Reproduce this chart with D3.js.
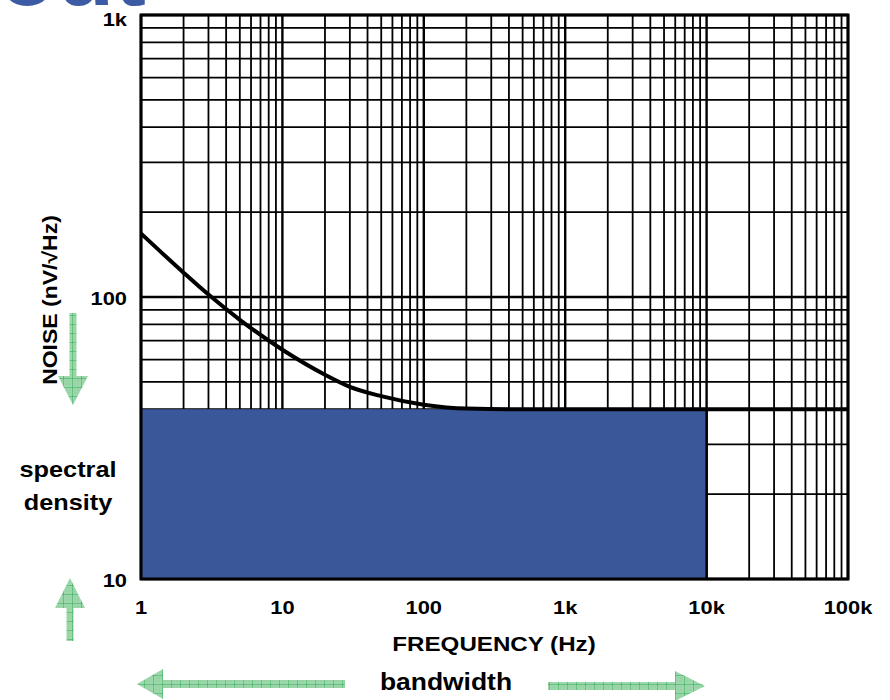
<!DOCTYPE html>
<html>
<head>
<meta charset="utf-8">
<script src="https://cdn.jsdelivr.net/npm/d3@7"></script>
<style>
  body{margin:0;background:#fff;}
  svg{display:block;font-family:"Liberation Sans",Arial,sans-serif;}
  .lbl{font-weight:bold;fill:#000;}
</style>
</head>
<body>
<div id="chart"></div>
<script>
// noise spectral density
var freqs=[1,2,3,5,10,20,30,50,100,200,500,1000,10000,100000];
var noise=[168,122,102,83,65,53,48,44.5,41.5,40.2,40,40,40,40];
// flat band used for the shaded block
var bandFreq=[1,10000];
var bandNoise=40;
var xTicks=[1,10,100,1000,10000,100000];
var xTickLabels=["1","10","100","1k","10k","100k"];
var yTicks=[10,100,1000];
var yTickLabels=["10","100","1k"];

var W=890,H=700;
var plot={left:141,right:848,top:15,bottom:579};

var svg=d3.select("#chart").append("svg").attr("width",W).attr("height",H);

var x=d3.scaleLog().domain([1,100000]).range([plot.left,plot.right]);
var y=d3.scaleLog().domain([10,1000]).range([plot.bottom,plot.top]);

// bold text, slightly stretched sideways like the original slide font
function label(px,py,str,size,anchor,rot){
	var t="translate("+px+","+py+")"+(rot?" rotate("+rot+")":"")+" scale(1.15,1)";
	return svg.append("text").attr("class","lbl").attr("transform",t)
		.attr("text-anchor",anchor||"middle").attr("font-size",size).text(str);
}

// hatched green fill for the arrows
var defs=svg.append("defs");
var pat=defs.append("pattern").attr("id","hatch").attr("patternUnits","userSpaceOnUse")
	.attr("width",9).attr("height",9);
pat.append("rect").attr("width",9).attr("height",9).attr("fill","#9fd9ae");
pat.append("path").attr("d","M0,0.5H9M0.5,0V9").attr("stroke","#4cb86c").attr("stroke-width",0.8);
pat.append("path").attr("d","M0,3H9M0,6H9M3,0V9M6,0V9").attr("stroke","#8ccf9c").attr("stroke-width",0.6);

// slide title remnant at very top
svg.append("text").attr("x",146).attr("y",5).attr("text-anchor","end")
	.attr("font-size",95).attr("font-weight","bold").attr("fill","#3d5ba5").text("out");

// grid
var g=svg.append("g");
var minorX=[],minorY=[];
for(var d=1;d<100000;d*=10){for(var k=2;k<10;k++)minorX.push(d*k);}
for(var e=10;e<1000;e*=10){for(var m=2;m<10;m++)minorY.push(e*m);}

g.selectAll(".vx").data(minorX).enter().append("line")
	.attr("x1",d=>x(d)).attr("x2",d=>x(d)).attr("y1",plot.top).attr("y2",plot.bottom)
	.attr("stroke","#000").attr("stroke-width",1.8);
g.selectAll(".hy").data(minorY).enter().append("line")
	.attr("y1",d=>y(d)).attr("y2",d=>y(d)).attr("x1",plot.left).attr("x2",plot.right)
	.attr("stroke","#000").attr("stroke-width",1.8);
g.selectAll(".vmaj").data(xTicks).enter().append("line")
	.attr("x1",d=>x(d)).attr("x2",d=>x(d)).attr("y1",plot.top).attr("y2",plot.bottom)
	.attr("stroke","#000").attr("stroke-width",2.4);
g.selectAll(".hmaj").data(yTicks).enter().append("line")
	.attr("y1",d=>y(d)).attr("y2",d=>y(d)).attr("x1",plot.left).attr("x2",plot.right)
	.attr("stroke","#000").attr("stroke-width",2.4);

// shaded block
svg.append("rect")
	.attr("x",x(bandFreq[0])).attr("y",y(bandNoise))
	.attr("width",x(bandFreq[1])-x(bandFreq[0])).attr("height",y(10)-y(bandNoise))
	.attr("fill","#3a5899");
svg.append("line").attr("x1",x(bandFreq[1])).attr("x2",x(bandFreq[1]))
	.attr("y1",y(bandNoise)).attr("y2",y(10)).attr("stroke","#000").attr("stroke-width",2.4);

// border
svg.append("rect").attr("x",plot.left).attr("y",plot.top)
	.attr("width",plot.right-plot.left).attr("height",plot.bottom-plot.top)
	.attr("fill","none").attr("stroke","#000").attr("stroke-width",3);

// noise curve
var line=d3.line().x(d=>x(d[0])).y(d=>y(d[1])).curve(d3.curveMonotoneX);
svg.append("path").datum(d3.zip(freqs,noise)).attr("d",line)
	.attr("fill","none").attr("stroke","#000").attr("stroke-width",4);

// tick labels
xTicks.forEach((d,i)=>label(x(d),614,xTickLabels[i],19,"middle"));
yTicks.forEach((d,i)=>label(127,Math.max(y(d)+8,26),yTickLabels[i],19,"end"));

// axis titles
label(494,651,"FREQUENCY (Hz)",21,"middle");
label(57,300,"NOISE (nV/\u221AHz)",20,"middle",-90);
label(68,477,"spectral",22,"middle");
label(68,510,"density",22,"middle");
label(446,690,"bandwidth",23,"middle");

// green arrows: [tailX, tailY, tipX, tipY, shaftWidth, headLength, headWidth]
var arrows=[
	[73,313,73,405,7,29,30],
	[70,641,70,578,7,30,30],
	[345,684,137,684,8,26,30],
	[548,686,705,686,8,30,30]
];
function arrowPath(a){
	var x0=a[0],y0=a[1],x1=a[2],y1=a[3],sw=a[4]/2,hl=a[5],hw=a[6]/2;
	var len=Math.hypot(x1-x0,y1-y0),ux=(x1-x0)/len,uy=(y1-y0)/len,nx=-uy,ny=ux;
	var bx=x1-ux*hl,by=y1-uy*hl;
	var p=[[x0+nx*sw,y0+ny*sw],[bx+nx*sw,by+ny*sw],[bx+nx*hw,by+ny*hw],[x1,y1],
		[bx-nx*hw,by-ny*hw],[bx-nx*sw,by-ny*sw],[x0-nx*sw,y0-ny*sw]];
	return "M"+p.map(q=>q.join(",")).join("L")+"Z";
}
svg.selectAll(".arr").data(arrows).enter().append("path")
	.attr("d",arrowPath).attr("fill","url(#hatch)").attr("stroke","none");
</script>
</body>
</html>
